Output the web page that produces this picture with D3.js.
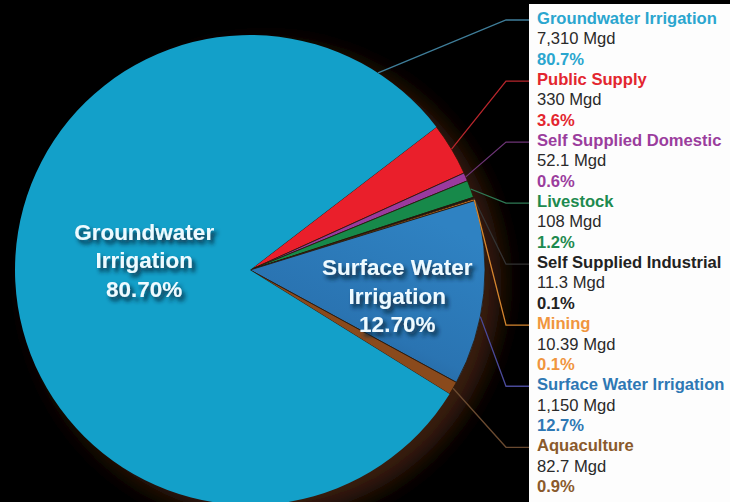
<!DOCTYPE html>
<html>
<head>
<meta charset="utf-8">
<script src="https://cdn.jsdelivr.net/npm/d3@7"></script>
<style>
  html, body { margin: 0; padding: 0; background: #000; }
  svg { display: block; }
</style>
</head>
<body>
<svg id="chart"></svg>
<script>
// slice order, clockwise from the public supply wedge
const categories = ["Public Supply", "Self Supplied Domestic", "Livestock", "Self Supplied Industrial",
  "Mining", "Surface Water Irrigation", "Aquaculture", "Groundwater Irrigation"];
const mgd = [330, 52.1, 108, 11.3, 10.39, 1150, 82.7, 7310];
const mgdLabels = ["330 Mgd", "52.1 Mgd", "108 Mgd", "11.3 Mgd", "10.39 Mgd", "1,150 Mgd", "82.7 Mgd", "7,310 Mgd"];
const pctLabels = ["3.6%", "0.6%", "1.2%", "0.1%", "0.1%", "12.7%", "0.9%", "80.7%"];
const sliceLabels = {"Groundwater Irrigation": ["Groundwater", "Irrigation", "80.70%"],
  "Surface Water Irrigation": ["Surface Water", "Irrigation", "12.70%"]};
// legend order, top to bottom
const legendOrder = ["Groundwater Irrigation", "Public Supply", "Self Supplied Domestic", "Livestock",
  "Self Supplied Industrial", "Mining", "Surface Water Irrigation", "Aquaculture"];

const width = 730, height = 502;
const cx = 250, cy = 270, radius = 235;

const fill = d3.scaleOrdinal().domain(categories)
  .range(["#ea1f2b", "#9a3a9e", "#17894a", "#1a1a1a", "#e8892f", "#2a7ab9", "#8a4a1c", "#13a0c9"]);
const textColor = d3.scaleOrdinal().domain(categories)
  .range(["#e3262f", "#9b3d9d", "#1d8a4f", "#222222", "#f0953e", "#2e78b4", "#8a5a2c", "#2ba6cf"]);
const lineColor = d3.scaleOrdinal().domain(categories)
  .range(["#b8262c", "#6e3577", "#2f7a55", "#333333", "#d6862f", "#4a4a9a", "#6a4a30", "#3f7e9a"]);

const svg = d3.select("#chart").attr("width", width).attr("height", height);
svg.append("rect").attr("width", width).attr("height", height).attr("fill", "#000");

const defs = svg.append("defs");
const sh = defs.append("filter").attr("id", "tshadow")
  .attr("x", "-20%").attr("y", "-20%").attr("width", "140%").attr("height", "160%");
sh.append("feDropShadow").attr("dx", 3).attr("dy", 4).attr("stdDeviation", 2.2)
  .attr("flood-color", "#08263a").attr("flood-opacity", 1);
const glow = defs.append("filter").attr("id", "pshadow")
  .attr("x", "-20%").attr("y", "-20%").attr("width", "140%").attr("height", "140%");
glow.append("feGaussianBlur").attr("stdDeviation", 12);
const swGrad = defs.append("linearGradient").attr("id", "swgrad")
  .attr("x1", "0").attr("y1", "1").attr("x2", "0.6").attr("y2", "0");
swGrad.append("stop").attr("offset", "0%").attr("stop-color", "#1d4f80");
swGrad.append("stop").attr("offset", "45%").attr("stop-color", "#2a74b2");
swGrad.append("stop").attr("offset", "100%").attr("stop-color", "#2f82c2");

const pie = d3.pie().sort(null).value(d => d)
  .startAngle(52.5 * Math.PI / 180).endAngle(412.5 * Math.PI / 180);
const arcs = pie(mgd);
const arc = d3.arc().innerRadius(0).outerRadius(radius);

const g = svg.append("g").attr("transform", `translate(${cx},${cy})`);

// soft dark-brown shadow behind the pie
g.append("circle").attr("cx", 16).attr("cy", 12).attr("r", radius)
  .attr("fill", "#3a1e0c").attr("filter", "url(#pshadow)");

g.selectAll("path.slice").data(arcs).enter().append("path")
  .attr("class", "slice")
  .attr("d", arc)
  .attr("fill", (d, i) => categories[i] === "Surface Water Irrigation" ? "url(#swgrad)" : fill(categories[i]))
  .attr("stroke", (d, i) => categories[i] === "Groundwater Irrigation" ? "none" : "#2a1608")
  .attr("stroke-width", 0.8);

// labels inside the two big slices
const labelRadius = {"Groundwater Irrigation": 106, "Surface Water Irrigation": 148};
const labelShift = {"Groundwater Irrigation": -15, "Surface Water Irrigation": 11};
arcs.forEach((d, i) => {
  const name = categories[i];
  if (!sliceLabels[name]) return;
  const la = d3.arc().innerRadius(labelRadius[name]).outerRadius(labelRadius[name]);
  const [x, y] = la.centroid(d);
  const t = g.append("text")
    .attr("text-anchor", "middle")
    .attr("font-family", "Liberation Sans, Arial, sans-serif")
    .attr("font-weight", "bold")
    .attr("font-size", 22.5)
    .attr("fill", "#eefaff")
    .attr("filter", "url(#tshadow)");
  sliceLabels[name].forEach((line, k) => {
    t.append("tspan").attr("x", x).attr("y", y + labelShift[name] + (k - 1) * 28.5)
      .attr("dy", "0.36em").text(line);
  });
});

// legend panel
const panelX = 529;
svg.append("rect").attr("x", panelX).attr("y", 4).attr("width", width - panelX).attr("height", height - 4)
  .attr("fill", "#fdfdfd");

const rowY = d3.scaleLinear().domain([0, 23]).range([18, 486]);
const legend = svg.append("g")
  .attr("font-family", "Liberation Sans, Arial, sans-serif")
  .attr("font-size", 16.6);

legendOrder.forEach((name, j) => {
  const i = categories.indexOf(name);
  legend.append("text").attr("x", 537).attr("y", rowY(j * 3)).attr("dy", "0.36em")
    .attr("font-weight", "bold").attr("fill", textColor(name)).text(name);
  legend.append("text").attr("x", 537).attr("y", rowY(j * 3 + 1)).attr("dy", "0.36em")
    .attr("fill", "#2a2a2a").text(mgdLabels[i]);
  legend.append("text").attr("x", 537).attr("y", rowY(j * 3 + 2)).attr("dy", "0.36em")
    .attr("font-weight", "bold").attr("fill", textColor(name)).text(pctLabels[i]);

  // leader line from pie edge to the legend entry
  const d = arcs[i];
  let a = (d.startAngle + d.endAngle) / 2;
  if (name === "Groundwater Irrigation") a = d.endAngle - 0.34;
  if (name === "Surface Water Irrigation") a = a + 0.1;
  const sx = cx + radius * Math.sin(a), sy = cy - radius * Math.cos(a);
  const ly = rowY(j * 3) + 2;
  svg.append("polyline")
    .attr("points", `${sx},${sy} 506,${ly} ${panelX},${ly}`)
    .attr("fill", "none")
    .attr("stroke", lineColor(name))
    .attr("stroke-width", 1.3);
});
</script>
</body>
</html>
